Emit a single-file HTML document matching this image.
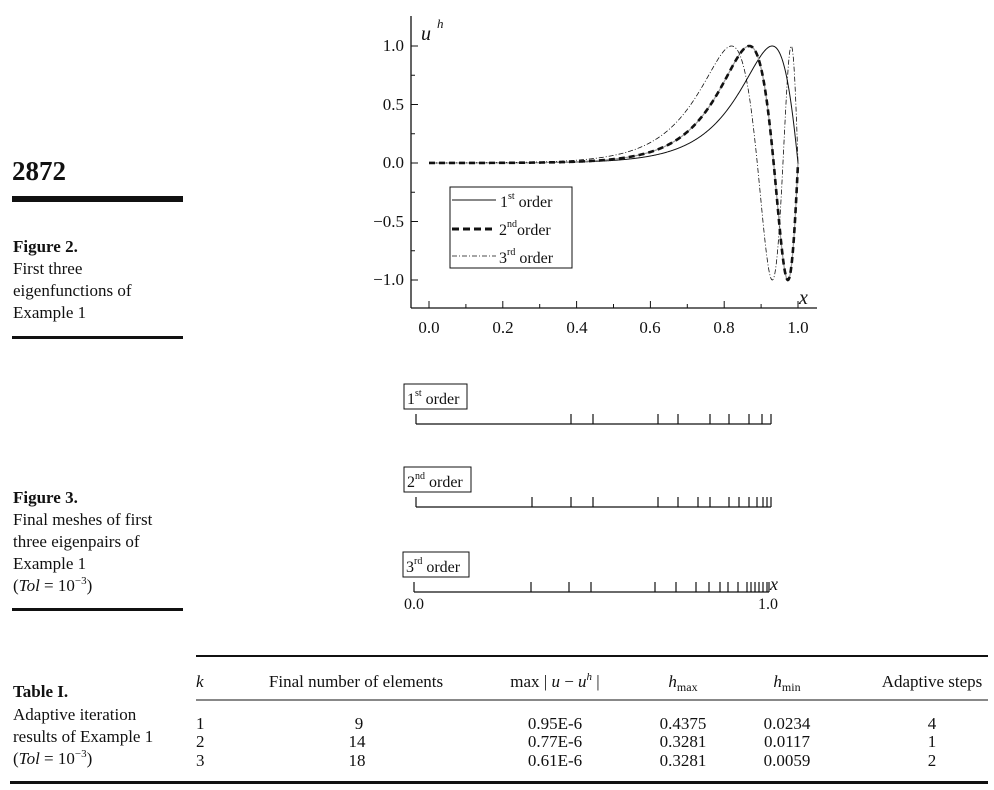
<!DOCTYPE html>
<html><head><meta charset="utf-8"><style>
body{margin:0;background:#fff;width:994px;height:790px;overflow:hidden;font-family:"Liberation Serif",serif;color:#111}
</style></head><body>
<svg width="994" height="790" style="position:absolute;left:0;top:0" font-family="Liberation Serif, serif" fill="#111">
<text x="12" y="180" font-size="27" font-weight="bold">2872</text>
<rect x="12" y="196" width="171" height="6" fill="#111"/>
<text x="13" y="252" font-size="17" font-weight="bold">Figure 2.</text>
<text x="13" y="274" font-size="17">First three</text>
<text x="13" y="296" font-size="17">eigenfunctions of</text>
<text x="13" y="318" font-size="17">Example 1</text>
<rect x="12" y="336" width="171" height="3"/>
<text x="13" y="503" font-size="17" font-weight="bold">Figure 3.</text>
<text x="13" y="525" font-size="17">Final meshes of first</text>
<text x="13" y="547" font-size="17">three eigenpairs of</text>
<text x="13" y="569" font-size="17">Example 1</text>
<text x="13" y="591" font-size="17">(<tspan font-style="italic">Tol</tspan> = 10<tspan dy="-7" font-size="11">−3</tspan><tspan dy="7">)</tspan></text>
<rect x="12" y="608" width="171" height="3"/>
<g stroke="#111" stroke-width="1.3" fill="none">
<line x1="411" y1="16" x2="411" y2="308"/>
<line x1="411" y1="308" x2="817" y2="308"/>
</g>
<g id="ticks" stroke="#111" stroke-width="1"></g>
<g font-size="17" text-anchor="end">
<text x="404" y="51">1.0</text><text x="404" y="110">0.5</text><text x="404" y="168">0.0</text>
<text x="404" y="227">−0.5</text><text x="404" y="285">−1.0</text>
</g>
<g font-size="17" text-anchor="middle">
<text x="429" y="333">0.0</text><text x="503" y="333">0.2</text><text x="577" y="333">0.4</text>
<text x="650" y="333">0.6</text><text x="724" y="333">0.8</text><text x="798" y="333">1.0</text>
</g>
<text x="421" y="40" font-size="20" font-style="italic">u</text><text x="437" y="28" font-size="13" font-style="italic">h</text>
<text x="799" y="304" font-size="20" font-style="italic">x</text>
<g id="curves" fill="none"></g>
<rect x="450" y="187" width="122" height="81" fill="#fff" stroke="#111" stroke-width="1"/>
<line x1="452" y1="200" x2="496" y2="200" stroke="#111" stroke-width="1"/>
<line x1="452" y1="229" x2="496" y2="229" stroke="#111" stroke-width="3" stroke-dasharray="7,4"/>
<line x1="452" y1="256" x2="496" y2="256" stroke="#111" stroke-width="0.8" stroke-dasharray="5,2,1,2"/>
<g font-size="16">
<text x="500" y="207">1<tspan dy="-8" font-size="10">st</tspan><tspan dy="8"> order</tspan></text>
<text x="499" y="235">2<tspan dy="-8" font-size="10">nd</tspan><tspan dy="8">order</tspan></text>
<text x="499" y="263">3<tspan dy="-8" font-size="10">rd</tspan><tspan dy="8"> order</tspan></text>
</g>
<g fill="#fff" stroke="#111" stroke-width="1">
<rect x="404" y="384" width="63" height="25"/><rect x="404" y="467" width="67" height="25"/><rect x="403" y="552" width="66" height="25"/>
</g>
<g font-size="16">
<text x="407" y="404">1<tspan dy="-8" font-size="10">st</tspan><tspan dy="8"> order</tspan></text>
<text x="407" y="487">2<tspan dy="-8" font-size="10">nd</tspan><tspan dy="8"> order</tspan></text>
<text x="406" y="572">3<tspan dy="-8" font-size="10">rd</tspan><tspan dy="8"> order</tspan></text>
</g>
<g id="mesh" stroke="#111" stroke-width="1.2"></g>
<text x="770" y="590" font-size="18" font-style="italic">x</text>
<text x="414" y="609" font-size="16" text-anchor="middle">0.0</text>
<text x="768" y="609" font-size="16" text-anchor="middle">1.0</text>
<rect x="196" y="655" width="792" height="2"/>
<line x1="196" y1="700" x2="988" y2="700" stroke="#111" stroke-width="1"/>
<rect x="10" y="781" width="978" height="3"/>
<g font-size="17">
<text x="13" y="697" font-weight="bold">Table I.</text>
<text x="13" y="720">Adaptive iteration</text>
<text x="13" y="742">results of Example 1</text>
<text x="13" y="764">(<tspan font-style="italic">Tol</tspan> = 10<tspan dy="-7" font-size="11">−3</tspan><tspan dy="7">)</tspan></text>
<text x="196" y="687" font-style="italic">k</text>
<g text-anchor="middle">
<text x="356" y="687">Final number of elements</text>
<text x="555" y="687">max | <tspan font-style="italic">u</tspan> − <tspan font-style="italic">u</tspan><tspan dy="-7" font-size="11" font-style="italic">h</tspan><tspan dy="7"> |</tspan></text>
<text x="683" y="687"><tspan font-style="italic">h</tspan><tspan font-size="12" dy="4">max</tspan></text>
<text x="787" y="687"><tspan font-style="italic">h</tspan><tspan font-size="12" dy="4">min</tspan></text>
<text x="932" y="687">Adaptive steps</text>
<text x="359" y="729">9</text><text x="357" y="747">14</text><text x="357" y="766">18</text>
<text x="555" y="729">0.95E-6</text><text x="555" y="747">0.77E-6</text><text x="555" y="766">0.61E-6</text>
<text x="683" y="729">0.4375</text><text x="683" y="747">0.3281</text><text x="683" y="766">0.3281</text>
<text x="787" y="729">0.0234</text><text x="787" y="747">0.0117</text><text x="787" y="766">0.0059</text>
<text x="932" y="729">4</text><text x="932" y="747">1</text><text x="932" y="766">2</text>
</g>
<text x="196" y="729">1</text><text x="196" y="747">2</text><text x="196" y="766">3</text>
</g>
</svg>
<script>
var NS="http://www.w3.org/2000/svg";
function el(p,t,a){var e=document.createElementNS(NS,t);for(var k in a)e.setAttribute(k,a[k]);p.appendChild(e);return e;}
var X=function(x){return 429+369*x},Y=function(u){return 163-117*u};
var tk=document.getElementById('ticks');
for(var i=0;i<=10;i++){var x=X(i/10);el(tk,'line',{x1:x,y1:308,x2:x,y2:i%2?304:301});}
for(var j=-4;j<=4;j++){var y=Y(j/4);el(tk,'line',{x1:411,y1:y,x2:j%2?415:418,y2:y});}
var cv=document.getElementById('curves');
function path(n,k){var d='';for(var i=0;i<=800;i++){var x=i/800;var s=Math.exp(k*(x-1));var u=Math.sin(n*Math.PI*s);d+=(i?'L':'M')+X(x).toFixed(2)+','+Y(u).toFixed(2);}return d;}
el(cv,'path',{d:path(1,9.9),stroke:'#111','stroke-width':1});
el(cv,'path',{d:path(2,10.5),stroke:'#999','stroke-width':1.2});
el(cv,'path',{d:path(2,10.5),stroke:'#111','stroke-width':2.6,'stroke-dasharray':'6,4'});
el(cv,'path',{d:path(3,9.95),stroke:'#111','stroke-width':0.8,'stroke-dasharray':'5,2,1,2'});
var m=document.getElementById('mesh');
function mesh(y,x0,x1,ts){el(m,'line',{x1:x0,y1:y,x2:x1,y2:y});ts.concat([x0,x1]).forEach(function(t){el(m,'line',{x1:t,y1:y,x2:t,y2:y-10});});}
mesh(424,416,771,[571,593,658,678,710,729,749,762]);
mesh(507,416,771,[532,571,593,658,678,698,710,729,739,749,757,763,767]);
mesh(592,414,769,[531,569,591,655,676,696,709,720,728,738,747,751,755,759,763,767]);
</script>
</body></html>
